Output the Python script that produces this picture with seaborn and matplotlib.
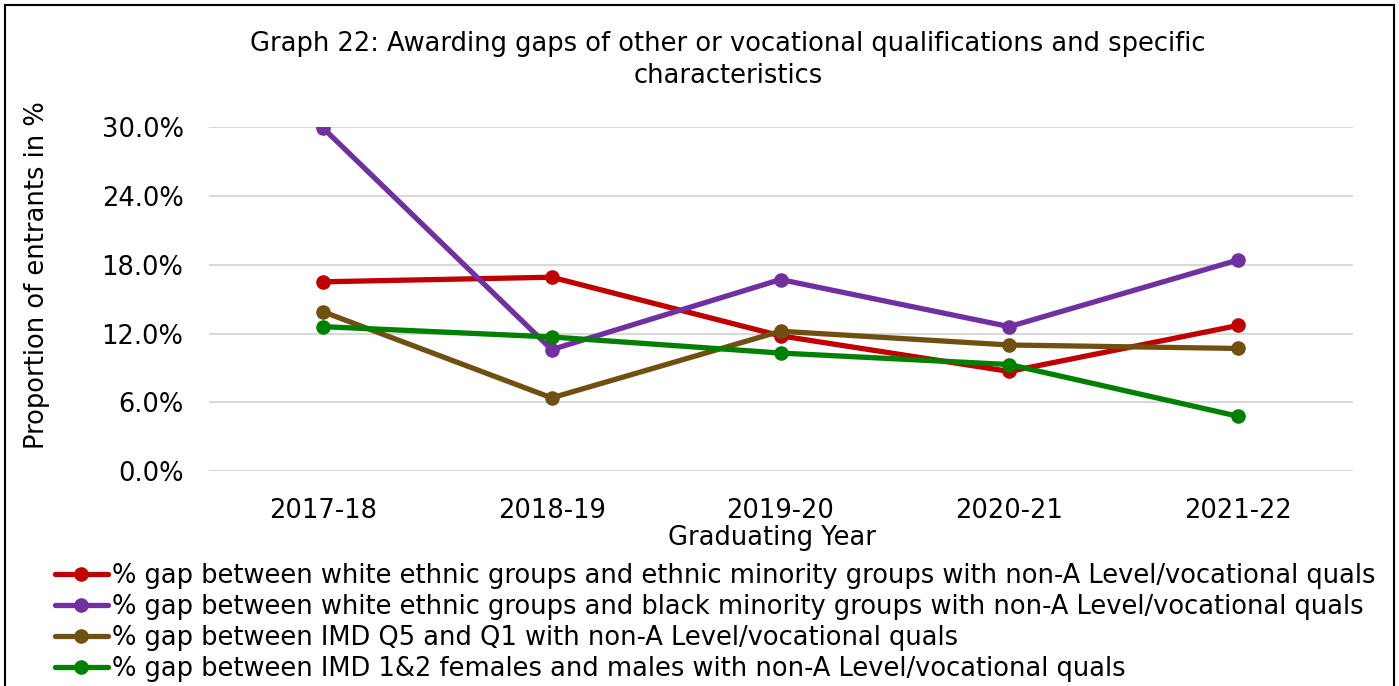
import matplotlib
matplotlib.use("Agg")
import matplotlib.pyplot as plt
import matplotlib.patches as mpatches
import pandas as pd
import seaborn as sns

years = ["2017-18", "2018-19", "2019-20", "2020-21", "2021-22"]

ethnic_minority_gap = [16.5, 16.9, 11.8, 8.7, 12.7]
black_minority_gap = [29.9, 10.6, 16.7, 12.6, 18.4]
imd_q5_q1_gap = [13.9, 6.4, 12.2, 11.0, 10.7]
imd_sex_gap = [12.6, 11.7, 10.3, 9.3, 4.8]

series_labels = [
    "% gap between white ethnic groups and ethnic minority groups with non-A Level/vocational quals",
    "% gap between white ethnic groups and black minority groups with non-A Level/vocational quals",
    "% gap between IMD Q5 and Q1 with non-A Level/vocational quals",
    "% gap between IMD 1&2 females and males with non-A Level/vocational quals",
]
series_values = [ethnic_minority_gap, black_minority_gap, imd_q5_q1_gap, imd_sex_gap]
colors = ["#C00000", "#7030A0", "#705010", "#008000"]

y_ticks = [0, 6, 12, 18, 24, 30]
y_tick_labels = ["0.0%", "6.0%", "12.0%", "18.0%", "24.0%", "30.0%"]

rows = []
for label, vals in zip(series_labels, series_values):
    for i, (yr, v) in enumerate(zip(years, vals)):
        rows.append({"year_idx": i, "year": yr, "gap": v, "series": label})
df = pd.DataFrame(rows)

sns.set_style("white")
plt.rcParams["font.family"] = ["DejaVu Sans"]
plt.rcParams["text.color"] = "black"
plt.rcParams["axes.labelcolor"] = "black"
plt.rcParams["xtick.color"] = "black"
plt.rcParams["ytick.color"] = "black"
FS = 18.5

W, H = 1399, 686
fig = plt.figure(figsize=(W / 100, H / 100), dpi=100)
ax = fig.add_axes([208.5 / W, 1 - 471.4 / H, 1144 / W, 344.7 / H])

sns.lineplot(
    data=df, x="year_idx", y="gap", hue="series", hue_order=series_labels,
    palette=colors, marker="o", markersize=10.5, markeredgewidth=0,
    linewidth=3.8, sort=False, ax=ax, legend=False,
)

ax.set_xlim(-0.5, 4.5)
ax.set_ylim(0, 30)
ax.set_xticks(range(len(years)))
ax.set_xticklabels(years, fontsize=FS)
ax.set_yticks(y_ticks)
ax.set_yticklabels(y_tick_labels, fontsize=FS)
ax.tick_params(axis="x", length=0, pad=19)
ax.tick_params(axis="y", length=0, pad=18)
ax.grid(axis="y", color="#D9D9D9", linewidth=1.5)
ax.grid(axis="x", visible=False)
ax.set_axisbelow(True)
for s in ax.spines.values():
    s.set_visible(False)

ax.set_xlabel("Graduating Year", fontsize=FS, labelpad=0)
ax.xaxis.set_label_coords((772 - 208.5) / 1144, -0.155)
ax.set_ylabel("Proportion of entrants in %", fontsize=FS)
ax.yaxis.set_label_coords((50 - 208.5) / 1144, (471.4 - 275) / 344.7)

fig.text(728 / W, 1 - 60 / H,
         "Graph 22: Awarding gaps of other or vocational qualifications and specific\ncharacteristics",
         ha="center", va="center", fontsize=FS, linespacing=1.3)

handles = [
    plt.Line2D([], [], color=c, linewidth=3.8, marker="o", markersize=10.5, markeredgewidth=0)
    for c in colors
]
fig.legend(handles, series_labels, loc="upper left",
           bbox_to_anchor=(55 / W, 1 - 563 / H), frameon=False, fontsize=FS,
           borderpad=0, borderaxespad=0, handlelength=2.05, handletextpad=0.15,
           labelspacing=0.19, numpoints=1)

fig.patches.append(mpatches.Rectangle((5 / W, -0.05), 1389 / W, 1.05 - 5 / H,
                                      transform=fig.transFigure, fill=False,
                                      edgecolor="black", linewidth=1.5))

fig.savefig("out.png", dpi=100, facecolor="white")
